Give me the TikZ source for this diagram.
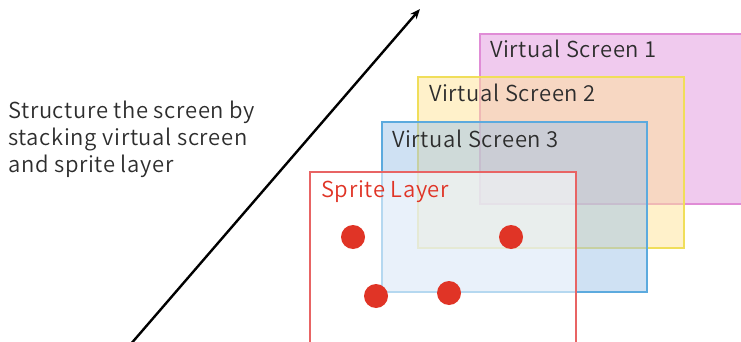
\documentclass[tikz,border=0pt]{standalone}
\usepackage{fontspec}
\setmainfont{Noto Sans CJK JP}[UprightFont={* DemiLight}, LetterSpace=3]
\usetikzlibrary{arrows.meta}
\definecolor{inktext}{RGB}{45,45,45}
\definecolor{spritered}{RGB}{224,52,38}
\definecolor{vsonefill}{RGB}{226,150,222}
\definecolor{vsoneline}{RGB}{224,140,214}
\definecolor{vstwofill}{RGB}{255,228,150}
\definecolor{vstwoline}{RGB}{240,222,90}
\definecolor{vsthreefill}{RGB}{160,195,232}
\definecolor{vsthreeline}{RGB}{92,170,222}
\definecolor{spriteline}{RGB}{232,100,100}
\tikzset{
  screen/.style={line width=1.2pt, fill opacity=0.5},
  screenlabel/.style={anchor=base west, inner sep=0pt, font=\fontsize{22}{26}\selectfont, text=inktext},
  sprite/.style={circle, fill=spritered, minimum size=24pt, inner sep=0pt},
  caption/.style={anchor=base west, inner sep=0pt, font=\fontsize{22}{26}\selectfont, text=inktext}
}
\begin{document}
\begin{tikzpicture}[x=1pt, y=-1pt]
  \useasboundingbox (0,0) rectangle (741,342);
  \clip (0,0) rectangle (741,342);

  % stacked virtual screens, back to front
  \path[screen, fill=vsonefill, draw=vsoneline] (480,34) rectangle (748,204);
  \node[screenlabel] (vs1) at (490,58) {Virtual Screen 1};

  \path[screen, fill=vstwofill, draw=vstwoline] (418,77) rectangle (684,248);
  \node[screenlabel] (vs2) at (429,102) {Virtual Screen 2};

  \path[screen, fill=vsthreefill, draw=vsthreeline] (382,122) rectangle (647,292);
  \node[screenlabel] (vs3) at (392,147) {Virtual Screen 3};

  % sprite layer on top
  \path[line width=1.2pt, draw=spriteline, fill=white, fill opacity=0.55] (310,172) rectangle (576,360);
  \node[screenlabel, text=spritered] (sl) at (321,197) {Sprite Layer};

  \node[sprite] (s1) at (353,237) {};
  \node[sprite] (s2) at (511,237) {};
  \node[sprite] (s3) at (376,296) {};
  \node[sprite] (s4) at (449,293) {};

  % depth arrow
  \coordinate (tail) at (130,345);
  \coordinate (head) at (420,9);
  \draw[line width=2.4pt, -{Stealth[length=10pt, width=8pt]}] (tail) -- (head);

  % caption
  \node[caption] (c1) at (8,118) {Structure the screen by};
  \node[caption] (c2) at (8,145) {stacking virtual screen};
  \node[caption] (c3) at (8,172) {and sprite layer};
\end{tikzpicture}
\end{document}
